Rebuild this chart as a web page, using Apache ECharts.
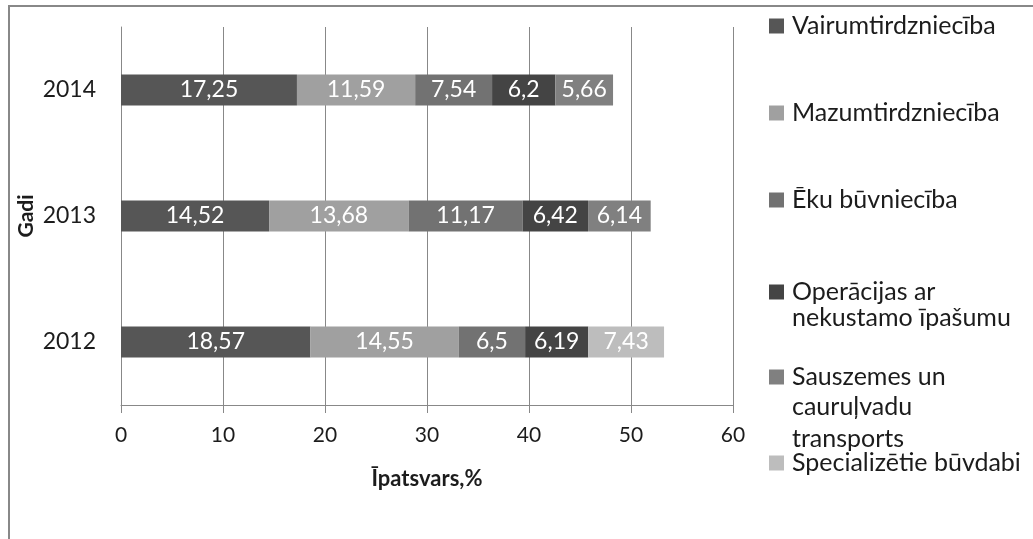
<!DOCTYPE html>
<html>
<head>
<meta charset="utf-8">
<script src="https://cdn.jsdelivr.net/npm/echarts@6/dist/echarts.min.js"></script>
<style>
  html, body { margin: 0; padding: 0; background: #fff; }
  #chart { width: 1033px; height: 539px; }
</style>
</head>
<body>
<div id="chart"></div>
<script>
// Years on the category axis (bottom to top)
const years = ['2012', '2013', '2014'];

// Share of each sector, %
const vairumtirdznieciba = [18.57, 14.52, 17.25];
const mazumtirdznieciba = [14.55, 13.68, 11.59];
const ekuBuvnieciba = [6.5, 11.17, 7.54];
const operacijas = [6.19, 6.42, 6.2];
const sauszemes = [null, 6.14, 5.66];
const specializetie = [7.43, null, null];

const seriesNames = [
  'Vairumtirdzniecība',
  'Mazumtirdzniecība',
  'Ēku būvniecība',
  'Operācijas ar',
  'Sauszemes un',
  'Specializētie būvdabi'
];
const seriesData = [vairumtirdznieciba, mazumtirdznieciba, ekuBuvnieciba, operacijas, sauszemes, specializetie];
const colors = ['#565656', '#a0a0a0', '#727272', '#444444', '#808080', '#bdbdbd'];

const FONT = 'Lato';
const TEXT = '#1c1c1c';
const LEGEND_SIZE = 25;

const chart = echarts.init(document.getElementById('chart'));

const series = seriesNames.map((name, i) => ({
  name: name,
  type: 'bar',
  stack: 'total',
  barWidth: 31,
  data: seriesData[i],
  itemStyle: { color: colors[i] },
  label: {
    show: true,
    position: 'inside',
    color: '#ffffff',
    fontFamily: FONT,
    fontSize: 23,
    formatter: p => String(p.value).replace('.', ',')
  },
  emphasis: { disabled: true }
}));

// One legend block per entry so each sits at its own height (centre y of first line)
const legendCenters = [26, 113, 200, 292, 377, 463];
const legends = seriesNames.map((name, i) => ({
  data: [name],
  left: 769,
  top: legendCenters[i] - 13,
  padding: 0,
  orient: 'vertical',
  itemWidth: 15,
  itemHeight: 15,
  itemGap: 0,
  icon: 'rect',
  selectedMode: false,
  textStyle: { fontFamily: FONT, fontSize: LEGEND_SIZE, color: TEXT, lineHeight: 26, padding: [0, 0, 0, 3] }
}));

// Continuation lines of the wrapped legend entries
const extraLines = [
  { text: 'nekustamo īpašumu', y: 319 },
  { text: 'cauruļvadu', y: 408 },
  { text: 'transports', y: 440 }
];

chart.setOption({
  animation: false,
  backgroundColor: '#ffffff',
  grid: { left: 121, right: 300, top: 27, bottom: 134 },
  legend: legends,
  xAxis: {
    type: 'value',
    min: 0,
    max: 60,
    interval: 10,
    name: 'Īpatsvars,%',
    nameLocation: 'middle',
    nameGap: 63,
    nameMoveOverlap: false,
    nameTextStyle: { fontFamily: FONT, fontSize: 22, fontWeight: 'bold', color: TEXT },
    axisLine: { show: true, lineStyle: { color: '#888', width: 1 } },
    axisTick: { show: true, length: 8, lineStyle: { color: '#888' } },
    axisLabel: { fontFamily: FONT, fontSize: 21, color: TEXT, margin: 20 },
    splitLine: { show: true, lineStyle: { color: '#888', width: 1 } }
  },
  yAxis: {
    type: 'category',
    data: years,
    name: 'Gadi',
    nameLocation: 'middle',
    nameGap: 84,
    nameRotate: 90,
    nameMoveOverlap: false,
    nameTextStyle: { fontFamily: FONT, fontSize: 21, fontWeight: 'bold', color: TEXT },
    axisLine: { show: true, lineStyle: { color: '#888', width: 1 } },
    axisTick: { show: false },
    axisLabel: { fontFamily: FONT, fontSize: 23, color: TEXT, margin: 25 },
    splitLine: { show: false }
  },
  series: series,
  graphic: [
    {
      type: 'rect',
      shape: { x: 9, y: 6, width: 1200, height: 700 },
      style: { fill: 'none', stroke: '#888', lineWidth: 2 },
      silent: true,
      z: -1
    }
  ].concat(extraLines.map(l => ({
    type: 'text',
    left: 792,
    top: l.y - 14,
    style: { text: l.text, fontFamily: FONT, fontSize: LEGEND_SIZE, fill: TEXT },
    silent: true
  })))
});
</script>
</body>
</html>
